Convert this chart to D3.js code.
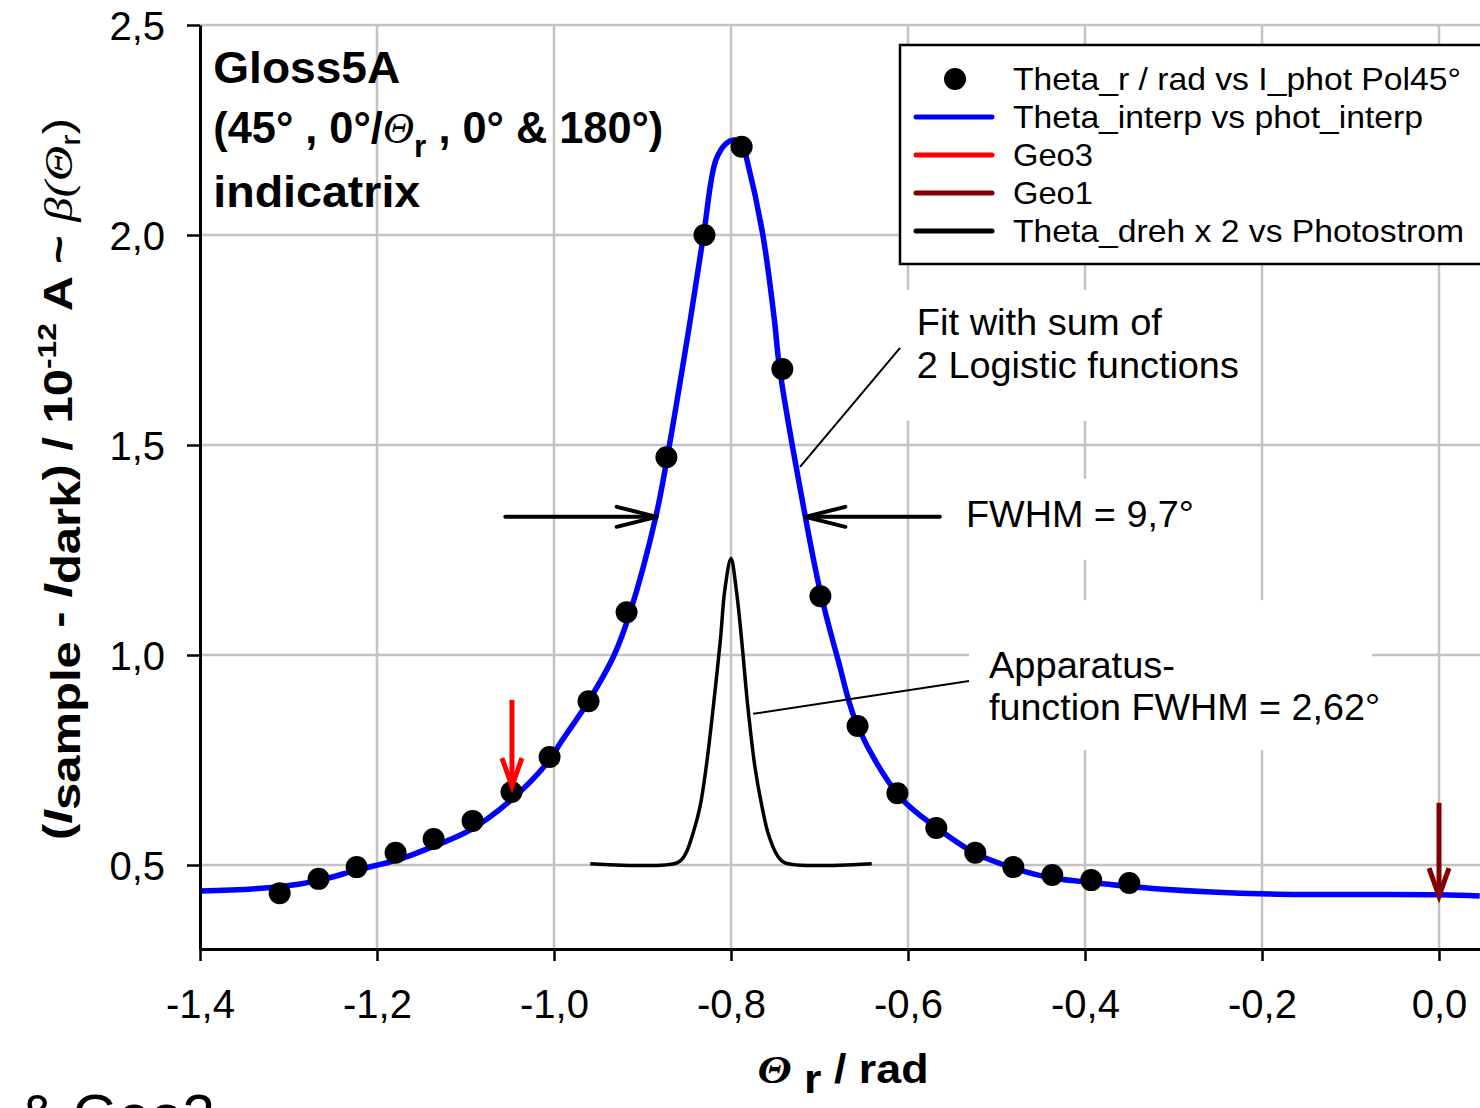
<!DOCTYPE html>
<html><head><meta charset="utf-8">
<script src="https://cdn.jsdelivr.net/npm/d3@7"></script>
<style>
body{margin:0;background:#fff}
svg{display:block}
text{font-family:Arial,"Liberation Sans",sans-serif;fill:#000}
</style>
</head><body>
<svg id="c" width="1480" height="1108"></svg>
<script>
// ---- data ----
const pointX = [-1.310,-1.266,-1.223,-1.179,-1.136,-1.092,-1.048,-1.005,-0.961,-0.918,-0.873,-0.830,-0.788,-0.742,-0.699,-0.657,-0.612,-0.568,-0.524,-0.481,-0.437,-0.393,-0.350];
const pointY = [0.433,0.467,0.495,0.529,0.562,0.605,0.674,0.757,0.890,1.102,1.471,2.000,2.210,1.681,1.140,0.831,0.671,0.588,0.529,0.495,0.476,0.464,0.457];

const interpX = [-1.400,-1.310,-1.264,-1.223,-1.177,-1.132,-1.095,-1.050,-1.005,-0.993,-0.961,-0.932,-0.914,-0.885,-0.872,-0.846,-0.831,-0.817,-0.805,-0.796,-0.787,-0.782,-0.764,-0.751,-0.745,-0.716,-0.699,-0.679,-0.657,-0.609,-0.567,-0.525,-0.484,-0.442,-0.400,-0.316,-0.191,0.000,0.046];
const interpY = [0.438,0.448,0.464,0.488,0.512,0.548,0.583,0.652,0.750,0.790,0.890,1.000,1.102,1.329,1.471,1.798,2.000,2.179,2.219,2.226,2.215,2.179,2.000,1.798,1.681,1.329,1.150,0.988,0.831,0.662,0.588,0.529,0.495,0.471,0.460,0.443,0.431,0.429,0.426];

const apparatusX = [-0.959,-0.861,-0.852,-0.843,-0.835,-0.828,-0.820,-0.812,-0.807,-0.800,-0.794,-0.788,-0.781,-0.773,-0.765,-0.758,-0.748,-0.739,-0.641];
const apparatusY = [0.503,0.505,0.524,0.575,0.639,0.734,0.877,1.036,1.155,1.230,1.155,1.036,0.877,0.734,0.639,0.575,0.524,0.505,0.503];

const geoNames = ["Geo3","Geo1"];
const geoX = [-1.0475, 0.0];
const geoYFrom = [0.893, 0.648];
const geoYTo = [0.688, 0.426];
const geoColors = ["#ff0000","#800000"];

const fwhmY = 1.329;
const fwhmFrom = [-1.055, -0.564];
const fwhmTo = [-0.884, -0.716];

const xTicks = [-1.4,-1.2,-1.0,-0.8,-0.6,-0.4,-0.2,0.0];
const xTickLabels = ["-1,4","-1,2","-1,0","-0,8","-0,6","-0,4","-0,2","0,0"];
const yTicks = [0.5,1.0,1.5,2.0,2.5];
const yTickLabels = ["0,5","1,0","1,5","2,0","2,5"];

const legendLabels = ["Theta_r / rad vs I_phot Pol45°","Theta_interp vs phot_interp","Geo3","Geo1","Theta_dreh x 2 vs Photostrom"];
const legendColors = ["#000","#0000ff","#ff0000","#800000","#000"];
const legendWidths = [448,410,80,80,451];

// ---- drawing ----
const svg = d3.select('#c');
svg.append('rect').attr('width',1480).attr('height',1108).attr('fill','#fff');

const x = d3.scaleLinear().domain([-1.4, 0.0463]).range([200, 1480]);
const y = d3.scaleLinear().domain([0.3, 2.5]).range([949, 25]);

const gridL = svg.append('g');
const bgL = svg.append('g');
const dataL = svg.append('g');
const annL = svg.append('g');

gridL.selectAll('line.v').data(xTicks.slice(1)).join('line').attr('class','v')
  .attr('x1',d=>x(d)).attr('x2',d=>x(d)).attr('y1',y(2.5)).attr('y2',y(0.3))
  .attr('stroke','#c3c3c3').attr('stroke-width',2.5);
gridL.selectAll('line.h').data(yTicks).join('line').attr('class','h')
  .attr('x1',x(-1.4)).attr('x2',1480).attr('y1',d=>y(d)).attr('y2',d=>y(d))
  .attr('stroke','#c3c3c3').attr('stroke-width',2.5);

// axes
const xAxis = d3.axisBottom(x).tickValues(xTicks).tickFormat((d,i)=>xTickLabels[i]).tickSize(12).tickSizeOuter(0).tickPadding(29);
const yAxis = d3.axisLeft(y).tickValues(yTicks).tickFormat((d,i)=>yTickLabels[i]).tickSize(13).tickSizeOuter(0).tickPadding(22);
const gx = svg.append('g').attr('transform',`translate(0,${y(0.3)})`).call(xAxis);
const gy = svg.append('g').attr('transform',`translate(${x(-1.4)},0)`).call(yAxis);
[gx,gy].forEach(g=>{
  g.select('.domain').attr('stroke','#000').attr('stroke-width',3);
  g.selectAll('.tick line').attr('stroke','#000').attr('stroke-width',2.5);
  g.selectAll('.tick text').attr('font-size',40).attr('font-family','Arial, "Liberation Sans", sans-serif').attr('fill','#000');
});
gy.selectAll('.tick text').attr('dy','0.36em');

// blue interpolation curve
const interp = interpX.map((v,i)=>[v,interpY[i]]);
dataL.append('path').datum(interp)
  .attr('d',d3.line().x(d=>x(d[0])).y(d=>y(d[1])).curve(d3.curveCatmullRom.alpha(0.5)))
  .attr('fill','none').attr('stroke','#0000ff').attr('stroke-width',5.5).attr('stroke-linejoin','round');

// apparatus function
const app = apparatusX.map((v,i)=>[v,apparatusY[i]]);
dataL.append('path').datum(app)
  .attr('d',d3.line().x(d=>x(d[0])).y(d=>y(d[1])).curve(d3.curveCatmullRom.alpha(0.5)))
  .attr('fill','none').attr('stroke','#000').attr('stroke-width',3.5);

// points
dataL.selectAll('circle').data(pointX.map((v,i)=>[v,pointY[i]])).join('circle')
  .attr('cx',d=>x(d[0])).attr('cy',d=>y(d[1])).attr('r',11).attr('fill','#000');

// geo arrows
geoX.forEach((gxv,i)=>{
  const xx = x(gxv), y0 = y(geoYFrom[i]), y1 = y(geoYTo[i]);
  dataL.append('line').attr('x1',xx).attr('x2',xx).attr('y1',y0).attr('y2',y1-3)
    .attr('stroke',geoColors[i]).attr('stroke-width',5);
  dataL.append('path').attr('d',`M${xx-10},${y1-28}L${xx},${y1}L${xx+10},${y1-28}`)
    .attr('fill','none').attr('stroke',geoColors[i]).attr('stroke-width',5).attr('stroke-linejoin','miter');
});

// FWHM arrows
fwhmFrom.forEach((f,i)=>{
  const x0 = x(f), x1 = x(fwhmTo[i]), yy = y(fwhmY);
  const s = x1 > x0 ? -1 : 1;
  annL.append('line').attr('x1',x0).attr('x2',x1).attr('y1',yy).attr('y2',yy)
    .attr('stroke','#000').attr('stroke-width',4).attr('stroke-linecap','round');
  annL.append('path').attr('d',`M${x1+s*40},${yy-10}L${x1},${yy}L${x1+s*40},${yy+10}`)
    .attr('fill','none').attr('stroke','#000').attr('stroke-width',4).attr('stroke-linecap','round');
});

// leader lines
annL.append('line').attr('x1',x(-0.722)).attr('y1',y(1.448)).attr('x2',x(-0.609)).attr('y2',y(1.731))
  .attr('stroke','#000').attr('stroke-width',2);
annL.append('line').attr('x1',x(-0.775)).attr('y1',y(0.860)).attr('x2',x(-0.531)).attr('y2',y(0.938))
  .attr('stroke','#000').attr('stroke-width',2);

// text helper
function addText(g, px, py, str, size, len, opts={}){
  const t = g.append('text').attr('x',px).attr('y',py).attr('font-size',size).text(str);
  if(len) t.attr('textLength',len).attr('lengthAdjust','spacingAndGlyphs');
  if(opts.bold) t.attr('font-weight','bold');
  return t;
}
function boxBehind(nodes, pl, pt, pr, pb){
  let x0=1e9,y0=1e9,x1=-1e9,y1=-1e9;
  nodes.forEach(n=>{const b=n.node().getBBox(); x0=Math.min(x0,b.x); y0=Math.min(y0,b.y); x1=Math.max(x1,b.x+b.width); y1=Math.max(y1,b.y+b.height);});
  bgL.append('rect').attr('x',x0-pl).attr('y',y0-pt).attr('width',x1-x0+pl+pr).attr('height',y1-y0+pt+pb).attr('fill','#fff');
}

// annotations
const f1 = addText(annL, x(-0.590), y(1.762), 'Fit with sum of', 36, 245);
const f2 = addText(annL, x(-0.590), y(1.660), '2 Logistic functions', 36, 322);
boxBehind([f1,f2], 12, 12, 10, 35);

const fw = addText(annL, x(-0.5345), y(1.305), 'FWHM = 9,7°', 36, 228);
boxBehind([fw], 18, 15, 15, 25);

const a1 = addText(annL, x(-0.5085), y(0.945), 'Apparatus-', 36, 186);
const a2 = addText(annL, x(-0.5085), y(0.845), 'function FWHM = 2,62°', 36, 391);
boxBehind([a1,a2], 20, 45, -8, 22);

// title
const tg = annL.append('g');
addText(tg, x(-1.385), 83, 'Gloss5A', 44, 187, {bold:true});
const t2 = tg.append('text').attr('x',x(-1.385)).attr('y',143).attr('font-size',44).attr('font-weight','bold')
  .attr('textLength',450).attr('lengthAdjust','spacingAndGlyphs');
t2.append('tspan').text('(45° , 0°/');
t2.append('tspan').attr('font-style','italic').attr('font-weight','normal').attr('font-family','"Liberation Serif", serif').text('Θ');
t2.append('tspan').attr('font-size',32).attr('dy',14).text('r');
t2.append('tspan').attr('dy',-14).text(' , 0° & 180°)');
addText(tg, x(-1.385), 207, 'indicatrix', 44, 207, {bold:true});

// legend
const lg = svg.append('g');
lg.append('rect').attr('x',900).attr('y',45).attr('width',640).attr('height',219)
  .attr('fill','#fff').attr('stroke','#000').attr('stroke-width',2.5);
legendLabels.forEach((lab,i)=>{
  const cy = 79 + i*38;
  if(i===0){
    lg.append('circle').attr('cx',955).attr('cy',cy).attr('r',11).attr('fill','#000');
  } else {
    lg.append('line').attr('x1',916).attr('x2',992).attr('y1',cy).attr('y2',cy)
      .attr('stroke',legendColors[i]).attr('stroke-width',5).attr('stroke-linecap','round');
  }
  addText(lg, 1013, cy+11, lab, 32, legendWidths[i]);
});

// axis titles
const xl = svg.append('text').attr('x',843).attr('y',1083).attr('text-anchor','middle')
  .attr('font-size',40).attr('font-weight','bold').attr('textLength',171).attr('lengthAdjust','spacingAndGlyphs');
xl.append('tspan').attr('font-style','italic').attr('font-family','"Liberation Serif", serif').text('Θ');
xl.append('tspan').attr('dy',10).text(' r');
xl.append('tspan').attr('dy',-10).text(' / rad');

const yl = svg.append('text').attr('transform','translate(72,479) rotate(-90)').attr('text-anchor','middle')
  .attr('font-size',40).attr('font-weight','bold').attr('textLength',722).attr('lengthAdjust','spacingAndGlyphs');
yl.append('tspan').text('(');
yl.append('tspan').attr('font-style','italic').text('I');
yl.append('tspan').attr('dy',8).text('sample');
yl.append('tspan').attr('dy',-8).text(' - ');
yl.append('tspan').attr('font-style','italic').text('I');
yl.append('tspan').attr('dy',8).text('dark');
yl.append('tspan').attr('dy',-8).text(') / 10');
yl.append('tspan').attr('dy',-16).attr('font-size',26).text('-12');
yl.append('tspan').attr('dy',16).text(' A ~ ');
yl.append('tspan').attr('font-style','italic').attr('font-weight','normal').attr('font-family','"Liberation Serif", serif').text('β(Θ');
yl.append('tspan').attr('dy',8).attr('font-size',28).attr('font-weight','normal').text('r');
yl.append('tspan').attr('dy',-8).attr('font-weight','normal').text(')');

// cut-off text at bottom-left (the reference shows only its upper part)
svg.append('text').attr('x',18).attr('y',1135).attr('font-size',58).text('& Geo2');
</script>
</body></html>
